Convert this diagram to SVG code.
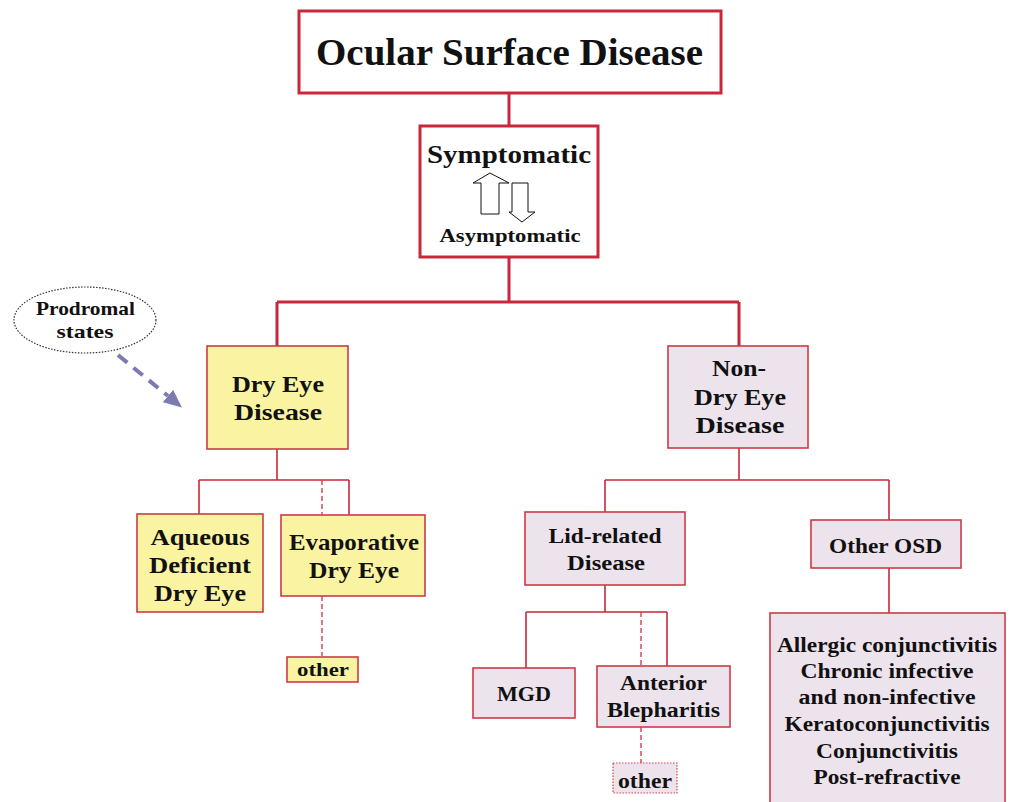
<svg xmlns="http://www.w3.org/2000/svg" width="1011" height="802" viewBox="0 0 1011 802">
<style>
text{font-family:"Liberation Serif","DejaVu Serif",serif;font-weight:bold;fill:#111;text-anchor:middle}
.thick{fill:#fff;stroke:#c8283a;stroke-width:3}
.y{fill:#faf4a2;stroke:#cf3a48;stroke-width:1.6}
.p{fill:#ede3ed;stroke:#cf3a48;stroke-width:1.6}
.ln{fill:none;stroke:#c8283a;stroke-width:1.6}
.lt{fill:none;stroke:#c8283a;stroke-width:3}
.ds{fill:none;stroke:#d9404e;stroke-width:1.4;stroke-dasharray:5 3}
</style>
<defs>
<marker id="ah" markerWidth="4.5" markerHeight="4" refX="0" refY="2" orient="auto" markerUnits="strokeWidth">
<path d="M0,0 L4.5,2 L0,4 Z" fill="#7b7bb0"/>
</marker>
</defs>
<rect width="1011" height="802" fill="#fff"/>
<g id="connectors">
<path class="lt" d="M509,93 V126"/>
<path class="lt" d="M509,257 V302 M277,302 H739 M277,302 V346 M739,302 V346"/>
<path class="ln" d="M277,449 V480 M199,480 H349 M199,480 V514 M349,480 V515"/>
<path class="ds" d="M322,480 V515 M322,596 V656"/>
<path class="ln" d="M739,448 V480 M605,480 H889 M605,480 V512 M889,480 V520"/>
<path class="ln" d="M889,568 V613"/>
<path class="ln" d="M605,585 V612 M526,612 H667 M526,612 V668 M667,612 V666"/>
<path class="ds" d="M641,612 V666 M641,727 V763"/>
<path d="M118,355 L168,396" fill="none" stroke="#7b7bb0" stroke-width="4" stroke-dasharray="12 8" marker-end="url(#ah)"/>
</g>
<g id="ocular">
<rect class="thick" x="299" y="11" width="422" height="82"/>
<text x="509.5" y="65" font-size="38" textLength="387" lengthAdjust="spacingAndGlyphs">Ocular Surface Disease</text>
</g>
<g id="symptomatic">
<rect class="thick" x="420" y="126" width="178" height="131"/>
<text x="509" y="163" font-size="26" textLength="164" lengthAdjust="spacingAndGlyphs">Symptomatic</text>
<polygon points="490,173 509,183 499,183 499,214 481,214 481,183 473,183" fill="#fff" stroke="#111" stroke-width="1"/>
<polygon points="512,183 528,183 528,212 535,212 522,222 509,212 512,212" fill="#fff" stroke="#111" stroke-width="1"/>
<text x="510" y="242" font-size="19" textLength="141" lengthAdjust="spacingAndGlyphs">Asymptomatic</text>
</g>
<g id="prodromal">
<ellipse cx="85" cy="320" rx="71" ry="33" fill="#fff" stroke="#333" stroke-width="1.2" stroke-dasharray="1.5 1.5"/>
<text x="85.5" y="315" font-size="19" textLength="99" lengthAdjust="spacingAndGlyphs">Prodromal</text>
<text x="85" y="338" font-size="19" textLength="57" lengthAdjust="spacingAndGlyphs">states</text>
</g>
<g id="dryeye">
<rect class="y" x="207" y="346" width="141" height="103"/>
<text x="278" y="392" font-size="24" textLength="92" lengthAdjust="spacingAndGlyphs">Dry Eye</text>
<text x="278" y="420" font-size="24" textLength="88" lengthAdjust="spacingAndGlyphs">Disease</text>
</g>
<g id="nondryeye">
<rect class="p" x="668" y="346" width="140" height="102"/>
<text x="739" y="376" font-size="24" textLength="54" lengthAdjust="spacingAndGlyphs">Non-</text>
<text x="740" y="405" font-size="24" textLength="92" lengthAdjust="spacingAndGlyphs">Dry Eye</text>
<text x="740" y="433" font-size="24" textLength="89" lengthAdjust="spacingAndGlyphs">Disease</text>
</g>
<g id="aqueous">
<rect class="y" x="137" y="514" width="126" height="98"/>
<text x="200" y="545" font-size="24" textLength="99" lengthAdjust="spacingAndGlyphs">Aqueous</text>
<text x="200" y="573" font-size="24" textLength="102" lengthAdjust="spacingAndGlyphs">Deficient</text>
<text x="200" y="601" font-size="24" textLength="92" lengthAdjust="spacingAndGlyphs">Dry Eye</text>
</g>
<g id="evaporative">
<rect class="y" x="281" y="515" width="144" height="81"/>
<text x="354" y="550" font-size="24" textLength="130" lengthAdjust="spacingAndGlyphs">Evaporative</text>
<text x="354" y="578" font-size="24" textLength="90" lengthAdjust="spacingAndGlyphs">Dry Eye</text>
</g>
<g id="other1">
<rect class="y" x="287" y="657" width="71" height="25"/>
<text x="323" y="676" font-size="19" textLength="52" lengthAdjust="spacingAndGlyphs">other</text>
</g>
<g id="lidrelated">
<rect class="p" x="525" y="512" width="160" height="73"/>
<text x="605" y="543" font-size="20" textLength="113" lengthAdjust="spacingAndGlyphs">Lid-related</text>
<text x="606" y="570" font-size="20" textLength="78" lengthAdjust="spacingAndGlyphs">Disease</text>
</g>
<g id="otherosd">
<rect class="p" x="811" y="520" width="150" height="48"/>
<text x="885.5" y="553" font-size="20" textLength="113" lengthAdjust="spacingAndGlyphs">Other OSD</text>
</g>
<g id="otherlist">
<rect class="p" x="770" y="613" width="235" height="195"/>
<text x="887" y="652" font-size="20" textLength="220" lengthAdjust="spacingAndGlyphs">Allergic conjunctivitis</text>
<text x="887" y="678" font-size="20" textLength="173" lengthAdjust="spacingAndGlyphs">Chronic infective</text>
<text x="887" y="704" font-size="20" textLength="177" lengthAdjust="spacingAndGlyphs">and non-infective</text>
<text x="887" y="731" font-size="20" textLength="205" lengthAdjust="spacingAndGlyphs">Keratoconjunctivitis</text>
<text x="887" y="758" font-size="20" textLength="142" lengthAdjust="spacingAndGlyphs">Conjunctivitis</text>
<text x="887" y="784" font-size="20" textLength="147" lengthAdjust="spacingAndGlyphs">Post-refractive</text>
</g>
<g id="mgd">
<rect class="p" x="473" y="668" width="102" height="50"/>
<text x="524" y="701" font-size="20" textLength="54" lengthAdjust="spacingAndGlyphs">MGD</text>
</g>
<g id="anterior">
<rect class="p" x="597" y="666" width="133" height="61"/>
<text x="663.5" y="690" font-size="20" textLength="87" lengthAdjust="spacingAndGlyphs">Anterior</text>
<text x="663.5" y="717" font-size="20" textLength="113" lengthAdjust="spacingAndGlyphs">Blepharitis</text>
</g>
<g id="other2">
<rect x="613" y="763" width="64" height="30" fill="#ede3ed" stroke="#d9404e" stroke-width="1.2" stroke-dasharray="1.5 1.5"/>
<text x="645" y="788" font-size="20" textLength="54" lengthAdjust="spacingAndGlyphs">other</text>
</g>
</svg>
